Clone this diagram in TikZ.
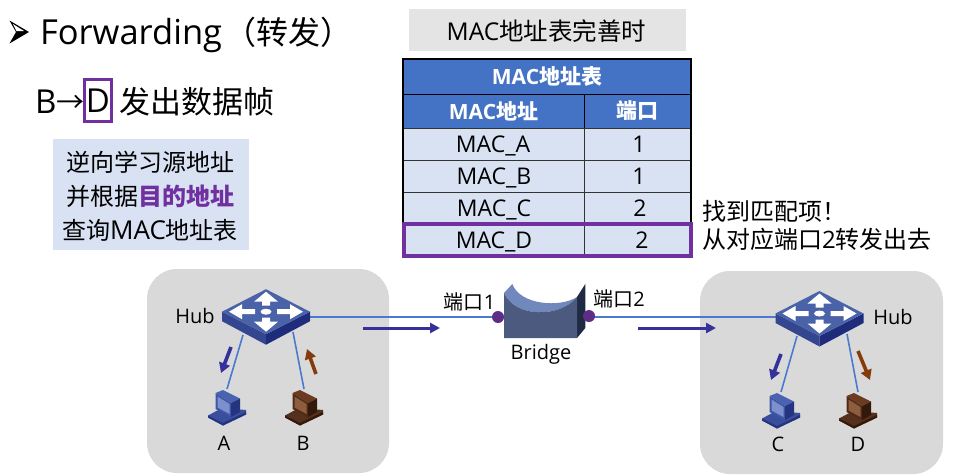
\documentclass[tikz,border=0pt]{standalone}
\usepackage{fontspec}
\setmainfont{Open Sans}
\newfontfamily\cjk{Noto Sans CJK SC}
\usetikzlibrary{arrows.meta}
\definecolor{grpgray}{HTML}{D9D9D9}
\definecolor{capgray}{HTML}{E4E4E4}
\definecolor{hdrblue}{HTML}{4472C4}
\definecolor{cellblue}{HTML}{D9E2F3}
\definecolor{hlpurple}{HTML}{7030A0}
\definecolor{portpurple}{HTML}{5F2D85}
\definecolor{linkblue}{HTML}{4A7AD0}
\definecolor{flowblue}{HTML}{35309A}
\definecolor{flowbrown}{HTML}{843C0C}
\definecolor{HubT}{HTML}{4A62A8}
\definecolor{HubL}{HTML}{34468F}
\definecolor{HubR}{HTML}{1F2C7C}
\definecolor{PcBT}{HTML}{4A63B0}
\definecolor{PcBF}{HTML}{3F55A5}
\definecolor{PcBS}{HTML}{7C90CE}
\definecolor{PcBD}{HTML}{24347F}
\definecolor{PcBB}{HTML}{3A4E9E}
\definecolor{PcRT}{HTML}{6B3A20}
\definecolor{PcRF}{HTML}{4F2B16}
\definecolor{PcRS}{HTML}{8E5C3E}
\definecolor{PcRD}{HTML}{33190C}
\definecolor{PcRB}{HTML}{55301C}
\definecolor{BrTop}{HTML}{7088BC}
\definecolor{BrFront}{HTML}{4D5A80}
\definecolor{BrSide}{HTML}{1F2A44}
\newcommand\fs[1]{\fontsize{#1}{#1}\selectfont}
\tikzset{
  txt/.style={inner sep=0,outer sep=0},
  grp/.style={fill=grpgray,rounded corners=30},
  hcell/.style={draw=black,line width=1pt,fill=hdrblue,text=white,inner sep=0,font=\fs{21}\bfseries},
  bcell/.style={draw=black!80,line width=1pt,fill=cellblue,inner sep=0},
  bodytxt/.style={txt,font=\fs{23}},
  link/.style={draw=linkblue,line width=1.6},
  flow/.style={line width=3,-{Triangle[length=10,width=10]}},
  minor/.style={line width=3.6,-{Triangle[length=10,width=11]}},
  slot/.style={inner sep=0,outer sep=0},
  lbl/.style={txt,font=\fs{20}},
}
\newcommand\hubicon[2]{%
\begin{scope}[shift={(#1,#2)}]
  \fill[fill=HubL] (-44,0) -- (0,22.5) -- (0,33) -- (-44,9.5) -- cycle;
  \fill[fill=HubR] (44,0) -- (0,22.5) -- (0,33) -- (44,9.5) -- cycle;
  \fill[fill=HubT] (0,-22.5) -- (44,0) -- (0,22.5) -- (-44,0) -- cycle;
  \fill[white] (0,0) ellipse (5.5 and 3);
  \fill[white] (0,-20) -- (12,-10) -- (4,-10) -- (4,-6) -- (-4,-6) -- (-4,-10) -- (-12,-10) -- cycle;
  \fill[white] (0,20) -- (12,10) -- (4,10) -- (4,6) -- (-4,6) -- (-4,10) -- (-12,10) -- cycle;
  \fill[white] (37,0) -- (24,-7.5) -- (24,-2.5) -- (11,-2.5) -- (11,2.5) -- (24,2.5) -- (24,7.5) -- cycle;
  \fill[white] (-37,0) -- (-24,-7.5) -- (-24,-2.5) -- (-11,-2.5) -- (-11,2.5) -- (-24,2.5) -- (-24,7.5) -- cycle;
\end{scope}}
\newcommand\pcicon[7]{%
\begin{scope}[shift={(#1,#2)}]
  \fill[#7] (-19,8.5) -- (-5,1) -- (19,3) -- (19,7.5) -- (-4,18.5) -- (-19,10.5) -- cycle;
  \fill[#6] (-19,8.5) -- (-4,16) -- (19,5) -- (19,7.5) -- (-4,18.5) -- (-19,10.5) -- cycle;
  \fill[#3] (-11.5,-14) -- (-4,-17) -- (13,-8.5) -- (4,-4) -- cycle;
  \fill[#4] (-11.5,-14) -- (4,-4) -- (4,10) -- (-11.5,2) -- cycle;
  \fill[#5] (-9.5,-10.5) -- (2.5,-3) -- (2.5,7) -- (-9.5,0.5) -- cycle;
  \fill[#6] (4,-4) -- (13,-8.5) -- (13,5) -- (4,10) -- cycle;
\end{scope}}
\begin{document}
\begin{tikzpicture}[x=1pt,y=-1pt]
\useasboundingbox (0,0) rectangle (968,475);
\fill[white] (0,0) rectangle (968,475);
% title
\fill[black] (9.5,20.5) -- (29,32) -- (9.5,43.5) -- (16,32) -- cycle;
\fill[white] (13,24) -- (24,31) -- (16.5,31) -- cycle;
\node[txt,anchor=base west,font=\fs{34.5}] (title) at (40,44) {Forwarding};
\node[txt,anchor=base west,font=\fs{32}\cjk] (titlecn) at (224,44) {（转发）};
% B -> D
\node[txt,anchor=base west,font=\fs{33}] (srcB) at (35,113) {B};
\node[txt,anchor=base west,font=\fs{28}\cjk] (toarrow) at (56,112) {→};
\node[draw=hlpurple,line width=2.5,minimum width=27,minimum height=42,inner sep=0,font=\fs{33}] (dstD) at (98,100.5) {D};
\node[txt,anchor=base west,font=\fs{31}\cjk] (sendcn) at (119.5,113) {发出数据帧};
% note
\node[fill=cellblue,inner sep=0,minimum width=196,minimum height=111] (note) at (151,194.5) {};
\node[txt,align=center,font=\fontsize{24}{34}\selectfont] (notetxt) at (150,196)
  {{\cjk 逆向学习源地址}\\{\cjk 并根据\textcolor{hlpurple}{\bfseries 目的地址}}\\{\cjk 查询}{\fontsize{26}{34}\selectfont MAC}{\cjk 地址表}};
% caption
\node[fill=capgray,inner sep=0,minimum width=277,minimum height=42] (cap) at (547.5,30) {};
\node[txt,font=\fs{24.5}] (captxt) at (546.5,31) {MAC{\cjk 地址表完善时}};
% table
\node[hcell,minimum width=288,minimum height=35] (thead) at (547,76.5) {MAC{\cjk 地址表}};
\node[hcell,minimum width=181,minimum height=34] (tmac) at (493.5,111) {MAC{\cjk 地址}};
\node[hcell,minimum width=107,minimum height=34] (tport) at (637.5,111) {\cjk 端口};
\node[bcell,minimum width=181,minimum height=32] (ra) at (493.5,144) {};
\node[bcell,minimum width=107,minimum height=32] (pa) at (637.5,144) {};
\node[bcell,minimum width=181,minimum height=32] (rb) at (493.5,176) {};
\node[bcell,minimum width=107,minimum height=32] (pb) at (637.5,176) {};
\node[bcell,minimum width=181,minimum height=32] (rc) at (493.5,208) {};
\node[bcell,minimum width=107,minimum height=32] (pc) at (637.5,208) {};
\node[bcell,minimum width=181,minimum height=32] (rd) at (493.5,240) {};
\node[bcell,minimum width=107,minimum height=32] (pd) at (637.5,240) {};
\draw[black,line width=2] (403,59) rectangle (691,255);
\node[bodytxt,anchor=base] (ta) at (493,152) {MAC\_A};
\node[bodytxt,anchor=base] (tb) at (494,184) {MAC\_B};
\node[bodytxt,anchor=base] (tc) at (494,216) {MAC\_C};
\node[bodytxt,anchor=base] (td) at (494,248) {MAC\_D};
\node[bodytxt,anchor=base] (na) at (639,152) {1};
\node[bodytxt,anchor=base] (nb) at (639,184) {1};
\node[bodytxt,anchor=base] (nc) at (640,216) {2};
\node[bodytxt,anchor=base] (nd) at (642,248) {2};
\draw[hlpurple,line width=4] (404,224) rectangle (691,256);
% remark
\node[txt,anchor=base west,font=\fs{24}\cjk] (r1) at (702,220) {找到匹配项！};
\node[txt,anchor=base west,font=\fs{24}] (r2) at (702,248) {{\cjk 从对应端口}2{\cjk 转发出去}};
% groups
\fill[grp] (147,269) rectangle (389,473);
\fill[grp] (700,271) rectangle (943,474);
% anchors
\node[slot,minimum width=88,minimum height=58] (hubL) at (266,317) {};
\node[slot,minimum width=88,minimum height=58] (hubR) at (819.5,317) {};
\node[slot,minimum width=38,minimum height=36] (pcA) at (227,407) {};
\node[slot,minimum width=38,minimum height=36] (pcB) at (304,407) {};
\node[slot,minimum width=38,minimum height=36] (pcC) at (781,410) {};
\node[slot,minimum width=38,minimum height=36] (pcD) at (858,410) {};
\node[slot,minimum width=81,minimum height=54] (bridge) at (544.5,311) {};
\coordinate (portA) at (498,317);
\coordinate (portB) at (589,316);
\coordinate (hubLa) at (243,335);
\coordinate (hubLb) at (293,332);
\coordinate (hubRc) at (797,336);
\coordinate (hubRd) at (847,334);
% links
\draw[link] (hubL.east) -- (portA);
\draw[link] (portB |- hubR.west) -- (hubR.west);
\draw[link] (hubLa) -- (pcA.north);
\draw[link] (hubLb) -- (pcB.north);
\draw[link] (hubRc) -- (pcC.north);
\draw[link] (hubRd) -- (pcD.north);
% icons
\hubicon{266}{311.7}
\hubicon{819.5}{313.5}
\pcicon{227}{407}{PcBT}{PcBF}{PcBS}{PcBD}{PcBB}
\pcicon{781}{410}{PcBT}{PcBF}{PcBS}{PcBD}{PcBB}
\pcicon{304}{407}{PcRT}{PcRF}{PcRS}{PcRD}{PcRB}
\pcicon{858}{410}{PcRT}{PcRF}{PcRS}{PcRD}{PcRB}
% bridge
\fill[fill=BrSide] (577,297) -- (585.3,284) -- (585.3,328) -- (577,338) -- cycle;
\fill[fill=BrTop] (504,293) -- (512.3,284) .. controls (520,305) and (560,308) .. (577,297) .. controls (560,318) and (515,318) .. (504,293) -- cycle;
\fill[fill=BrFront] (504,293) .. controls (515,318) and (560,318) .. (577,297) -- (577,338) -- (504,338) -- cycle;
\node[slot,circle,minimum size=12,fill=portpurple] (dotA) at (portA) {};
\node[slot,circle,minimum size=12,fill=portpurple] (dotB) at (portB) {};
% flows
\coordinate (f1s) at (363,328); \coordinate (f1e) at (440,328);
\coordinate (f2s) at (638,328); \coordinate (f2e) at (716,328);
\draw[flow,flowblue] (f1s) -- (f1e);
\draw[flow,flowblue] (f2s) -- (f2e);
\coordinate (fas) at (231,347); \coordinate (fae) at (221,373);
\coordinate (fbs) at (316,374); \coordinate (fbe) at (307,349);
\coordinate (fcs) at (781,354); \coordinate (fce) at (771,380);
\coordinate (fds) at (858,351); \coordinate (fde) at (870,380);
\draw[minor,flowblue] (fas) -- (fae);
\draw[minor,flowbrown] (fbs) -- (fbe);
\draw[minor,flowblue] (fcs) -- (fce);
\draw[minor,flowbrown] (fds) -- (fde);
% labels
\node[lbl] (lhub1) at (195,316) {Hub};
\node[lbl] (lhub2) at (893,317) {Hub};
\node[lbl] (la) at (224,443) {A};
\node[lbl] (lb) at (303,443) {B};
\node[lbl] (lc) at (778,444) {C};
\node[lbl] (ld) at (858,444) {D};
\node[lbl] (lbr) at (541,354) {Bridge};
\node[lbl] (lp1) at (469.5,302) {{\cjk 端口}1};
\node[lbl] (lp2) at (619,299) {{\cjk 端口}2};
\end{tikzpicture}
\end{document}
